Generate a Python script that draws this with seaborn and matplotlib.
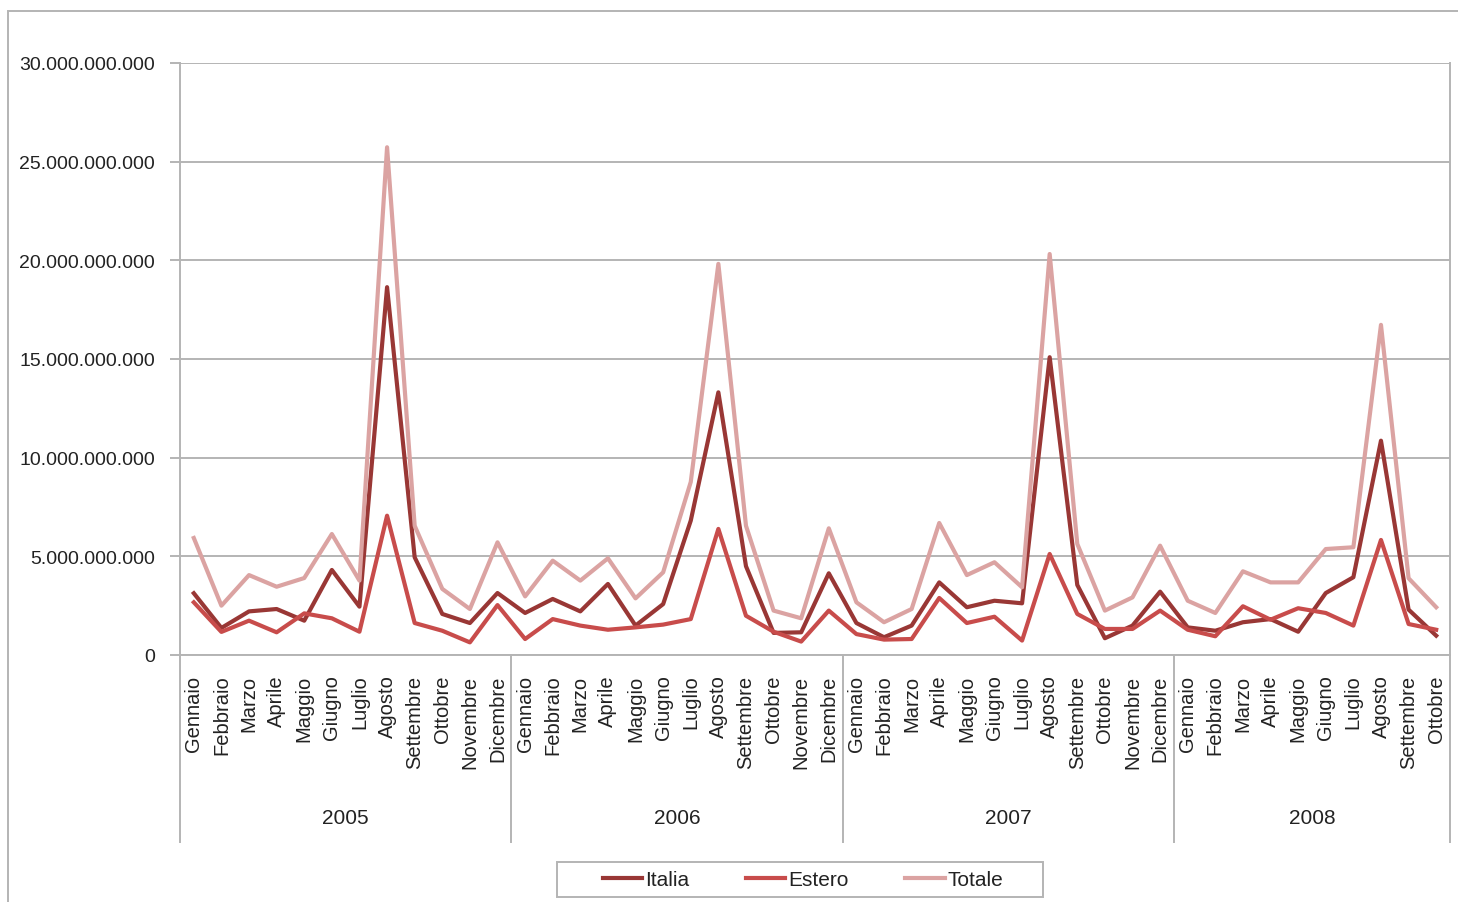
import pandas as pd
import matplotlib.pyplot as plt
import seaborn as sns
from matplotlib.patches import Rectangle
from matplotlib.ticker import FuncFormatter

# valori in miliardi
mesi = ['Gennaio', 'Febbraio', 'Marzo', 'Aprile', 'Maggio', 'Giugno', 'Luglio',
        'Agosto', 'Settembre', 'Ottobre', 'Novembre', 'Dicembre']
anni = ['2005', '2006', '2007', '2008']

italia = [3.13, 1.37, 2.21, 2.33, 1.74, 4.31, 2.45, 18.64, 4.95, 2.08, 1.62, 3.14,
          2.13, 2.84, 2.21, 3.60, 1.49, 2.58, 6.81, 13.31, 4.50, 1.12, 1.15, 4.14,
          1.62, 0.90, 1.49, 3.68, 2.42, 2.75, 2.62, 15.09, 3.55, 0.85, 1.49, 3.21,
          1.40, 1.23, 1.66, 1.82, 1.18, 3.14, 3.94, 10.86, 2.30, 0.98]
estero = [2.67, 1.17, 1.74, 1.15, 2.11, 1.86, 1.18, 7.06, 1.62, 1.23, 0.64, 2.53,
          0.81, 1.82, 1.49, 1.28, 1.40, 1.54, 1.82, 6.39, 1.99, 1.18, 0.68, 2.25,
          1.06, 0.78, 0.81, 2.89, 1.62, 1.94, 0.73, 5.12, 2.08, 1.32, 1.32, 2.25,
          1.28, 0.95, 2.47, 1.79, 2.37, 2.13, 1.49, 5.83, 1.57, 1.28]
totale = [5.93, 2.50, 4.05, 3.46, 3.90, 6.13, 3.77, 25.73, 6.55, 3.35, 2.33, 5.71,
          2.97, 4.78, 3.77, 4.90, 2.87, 4.19, 8.77, 19.82, 6.55, 2.25, 1.86, 6.42,
          2.67, 1.66, 2.33, 6.69, 4.05, 4.70, 3.43, 20.32, 5.63, 2.25, 2.92, 5.54,
          2.75, 2.13, 4.24, 3.68, 3.68, 5.37, 5.46, 16.73, 3.89, 2.42]

etichette = (mesi * 4)[:len(italia)]
n = len(etichette)

df = pd.DataFrame({
    'pos': list(range(n)) * 3,
    'valore': [v * 1e9 for v in italia + estero + totale],
    'serie': ['Italia'] * n + ['Estero'] * n + ['Totale'] * n,
})

colori = {'Italia': '#993735', 'Estero': '#C84C4B', 'Totale': '#DBA3A2'}
grigio = '#B4B4B4'
testo = '#222222'

plt.rcParams['font.family'] = ['Liberation Sans', 'DejaVu Sans']

fig = plt.figure(figsize=(14.58, 9.03), dpi=100)
ax = fig.add_axes([180 / 1458, 1 - 656 / 903, 1270 / 1458, 592 / 903])

sns.lineplot(data=df, x='pos', y='valore', hue='serie', palette=colori,
             linewidth=3.0, ax=ax, legend=False)

ax.set_xlim(-0.5, n - 0.5)
ax.set_ylim(0, 30e9)
ax.set_yticks([i * 5e9 for i in range(7)])
ax.yaxis.set_major_formatter(FuncFormatter(lambda v, p: f'{int(v):,}'.replace(',', '.')))
ax.grid(axis='y', color=grigio, linewidth=1.4)
ax.set_axisbelow(True)
ax.set_xlabel('')
ax.set_ylabel('')

for s in ['top', 'left']:
    ax.spines[s].set_visible(False)
for s in ['bottom', 'right']:
    ax.spines[s].set_color(grigio)
    ax.spines[s].set_linewidth(1.4)

ax.set_xticks(range(n))
ax.set_xticklabels(etichette, rotation=90, fontsize=14.5, color=testo)
ax.tick_params(axis='x', length=0, pad=14)
ax.tick_params(axis='y', length=7, width=1.4, color=grigio, labelsize=14,
               labelcolor=testo, pad=11)

# linee verticali di gruppo (asse sinistro e separatori anni)
fondo = -(843 - 656) / 592
for xb in [-0.5, 11.5, 23.5, 35.5, n - 0.5]:
    ax.plot([xb, xb], [fondo, 0 if xb > -0.5 else 1], transform=ax.get_xaxis_transform(),
            color=grigio, linewidth=1.4, clip_on=False)

inizi = [-0.5, 11.5, 23.5, 35.5]
fini = [11.5, 23.5, 35.5, n - 0.5]
for a, x0, x1 in zip(anni, inizi, fini):
    ax.text((x0 + x1) / 2, -(818 - 656) / 592, a, transform=ax.get_xaxis_transform(),
            ha='center', va='center', fontsize=15, color=testo)

# legenda
maniglie = [plt.Line2D([], [], color=colori[k], linewidth=3.0) for k in colori]
leg = fig.legend(maniglie, list(colori), loc='center', ncol=3,
                 bbox_to_anchor=(803 / 1458, 1 - 881 / 903), fontsize=15,
                 frameon=False, handlelength=1.9, handletextpad=0.15,
                 columnspacing=2.7, borderpad=0, borderaxespad=0)
for t in leg.get_texts():
    t.set_color(testo)
fig.patches.append(Rectangle((557 / 1458, 1 - 898 / 903), 486 / 1458, 35 / 903,
                             transform=fig.transFigure, fill=False,
                             edgecolor=grigio, linewidth=1.4))

# cornice esterna del grafico
fig.patches.append(Rectangle((8 / 1458, -0.02), 1.0, 1 - 12 / 903 + 0.02,
                             transform=fig.transFigure, fill=False,
                             edgecolor=grigio, linewidth=1.4))

fig.savefig('out.png', dpi=100)
